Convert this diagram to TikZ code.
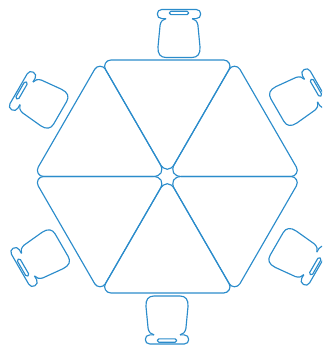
\documentclass[tikz,border=0pt]{standalone}
\usetikzlibrary{calc}
\definecolor{lineblue}{HTML}{2B8CCB}
\tikzset{
  plan/.style={draw=lineblue,line width=1.15pt,line join=round},
  chair/.pic={
    \draw[plan,rounded corners=1.5pt] (-9.6,-0.6) rectangle (9.6,2.8);
    \draw[plan] (-13,-4.6) -- (-17.2,-4.6) .. controls (-20,-4.6) and (-21.7,-2.6) .. (-21.7,0)
      .. controls (-21.7,2.6) and (-20,4.5) .. (-17.2,4.5) -- (17.2,4.5)
      .. controls (20,4.5) and (21.7,2.6) .. (21.7,0)
      .. controls (21.7,-2.6) and (20,-4.6) .. (17.2,-4.6) -- (13,-4.6);
    \draw[plan] (-13,-4.6) .. controls (-16,-5) and (-18.2,-7.5) .. (-18.9,-11)
      -- (-21,-33) .. controls (-21.5,-40) and (-18.5,-43.5) .. (-13,-43.5)
      -- (13,-43.5) .. controls (18.5,-43.5) and (21.5,-40) .. (21,-33)
      -- (18.9,-11) .. controls (18.2,-7.5) and (16,-5) .. (13,-4.6);
  }
}
\begin{document}
\begin{tikzpicture}[x=1pt,y=1pt]
  \useasboundingbox (0,0) rectangle (322,347);
  \clip (0,0) rectangle (322,347);
  \coordinate (C) at (167.3,170.5);
  \foreach \i in {0,...,5} {
    \coordinate (V\i) at ($(C)+({60*\i}:134.5)$);
  }
  \foreach \a/\b in {0/1,1/2,2/3,3/4,4/5,5/0} {
    \draw[plan] ($(C)!14.5pt!(V\a)$) -- ($(V\a)!10.8pt!(C)$)
      .. controls ($(V\a)!6pt!(C)$) and ($(V\a)!6pt!(V\b)$) .. ($(V\a)!10.8pt!(V\b)$)
      -- ($(V\b)!10.8pt!(V\a)$)
      .. controls ($(V\b)!6pt!(V\a)$) and ($(V\b)!6pt!(C)$) .. ($(V\b)!10.8pt!(C)$)
      -- ($(C)!14.5pt!(V\b)$)
      .. controls ($(C)!6.3pt!(V\b)$) and ($(C)!6.3pt!(V\a)$) .. cycle;
  }
  \pic at (179,333) {chair};
  \pic[rotate=60] at (22.5,256) {chair};
  \pic[rotate=-60] at (315,258.7) {chair};
  \pic[rotate=120] at (24,80) {chair};
  \pic[rotate=-120] at (314.3,81.3) {chair};
  \pic[rotate=180] at (167,7.5) {chair};
\end{tikzpicture}
\end{document}
